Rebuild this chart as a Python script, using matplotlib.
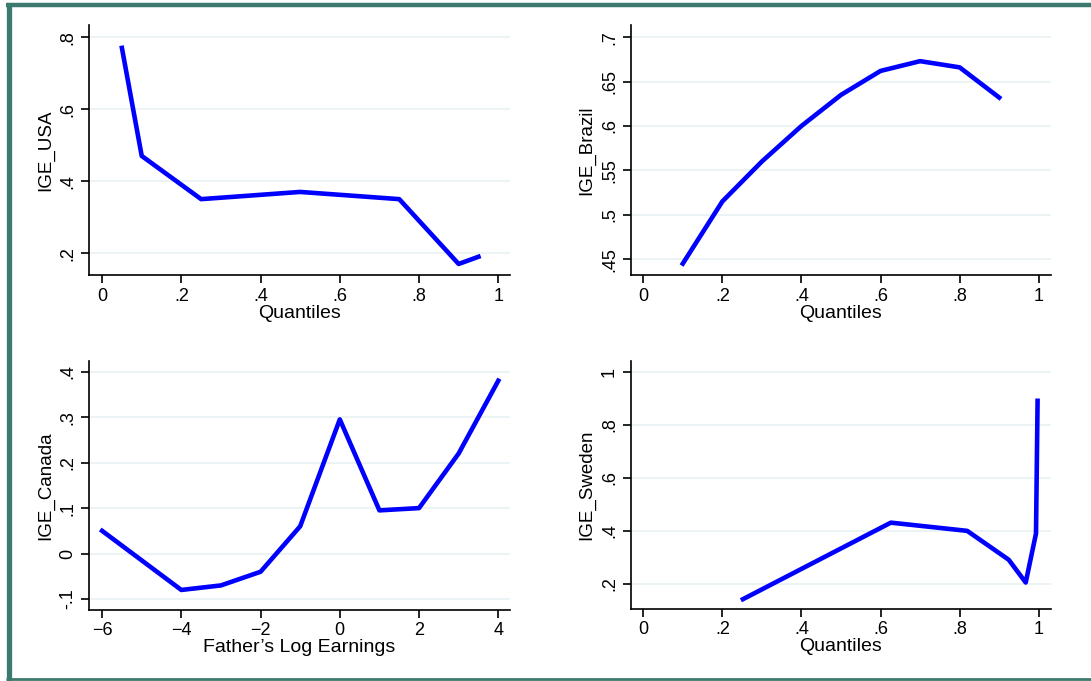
import numpy as np
import matplotlib.pyplot as plt

plt.rc('font', family=['Liberation Sans', 'DejaVu Sans'])
plt.rc('font', size=13)

#### data
usa_q = [0.05, 0.10, 0.25, 0.50, 0.75, 0.90, 0.95]
usa_ige = [0.77, 0.47, 0.35, 0.37, 0.35, 0.17, 0.19]

brazil_q = [0.1, 0.2, 0.3, 0.4, 0.5, 0.6, 0.7, 0.8, 0.9]
brazil_ige = [0.445, 0.515, 0.560, 0.600, 0.635, 0.662, 0.673, 0.666, 0.632]

canada_x = [-6, -5, -4, -3, -2, -1, 0, 1, 2, 3, 4]
canada_ige = [0.05, -0.015, -0.08, -0.07, -0.04, 0.06, 0.295, 0.095, 0.10, 0.22, 0.38]

sweden_q = [0.252, 0.626, 0.819, 0.924, 0.967, 0.993, 0.997]
sweden_ige = [0.142, 0.431, 0.400, 0.291, 0.205, 0.39, 0.891]

quantile_ticks = [0, 0.2, 0.4, 0.6, 0.8, 1]
quantile_labels = ['0', '.2', '.4', '.6', '.8', '1']

LINE_COLOR = '#0000ff'
GRID_COLOR = '#e9f1f3'
FRAME_COLOR = '#3b7a6e'

fig = plt.figure(figsize=(10.91, 6.81), dpi=100)

# outer frame (left, top, bottom only)
fig.add_artist(plt.Line2D([0.0078, 0.0078], [0.0, 0.995], transform=fig.transFigure,
                          color=FRAME_COLOR, lw=3.8, solid_capstyle='butt'))
fig.add_artist(plt.Line2D([0.0055, 1.0], [0.9925, 0.9925], transform=fig.transFigure,
                          color=FRAME_COLOR, lw=3.2, solid_capstyle='butt'))
fig.add_artist(plt.Line2D([0.0055, 1.0], [0.0025, 0.0025], transform=fig.transFigure,
                          color=FRAME_COLOR, lw=2.0, solid_capstyle='butt'))


def style_axes(ax, yticks, ylabels, ylabel, xticks, xlabels, xlabel):
    ax.spines['top'].set_visible(False)
    ax.spines['right'].set_visible(False)
    ax.spines['left'].set_linewidth(1.2)
    ax.spines['bottom'].set_linewidth(1.2)
    ax.set_yticks(yticks)
    ax.set_yticklabels(ylabels, rotation=90, va='center')
    ax.set_xticks(xticks)
    ax.set_xticklabels(xlabels)
    ax.tick_params(direction='out', length=6, width=1.2, labelsize=13, pad=3)
    ax.yaxis.grid(True, color=GRID_COLOR, lw=1.2)
    ax.set_axisbelow(True)
    ax.set_ylabel(ylabel, fontsize=13.5, labelpad=4)
    ax.set_xlabel(xlabel, fontsize=14, labelpad=0)


#### USA
ax = fig.add_axes([0.0816, 0.596, 0.386, 0.367])
ax.plot(usa_q, usa_ige, color=LINE_COLOR, lw=3.3)
ax.set_xlim(-0.033, 1.03)
ax.set_ylim(0.139, 0.833)
style_axes(ax, [0.2, 0.4, 0.6, 0.8], ['.2', '.4', '.6', '.8'], 'IGE_USA',
           quantile_ticks, quantile_labels, 'Quantiles')

#### Brazil
ax = fig.add_axes([0.578, 0.596, 0.385, 0.367])
ax.plot(brazil_q, brazil_ige, color=LINE_COLOR, lw=3.3)
ax.set_xlim(-0.032, 1.03)
ax.set_ylim(0.432, 0.7135)
style_axes(ax, [0.45, 0.5, 0.55, 0.6, 0.65, 0.7], ['.45', '.5', '.55', '.6', '.65', '.7'],
           'IGE_Brazil', quantile_ticks, quantile_labels, 'Quantiles')

#### Canada
ax = fig.add_axes([0.0816, 0.1043, 0.386, 0.366])
ax.plot(canada_x, canada_ige, color=LINE_COLOR, lw=3.3)
ax.set_xlim(-6.33, 4.3)
ax.set_ylim(-0.124, 0.424)
style_axes(ax, [-0.1, 0, 0.1, 0.2, 0.3, 0.4], ['-.1', '0', '.1', '.2', '.3', '.4'],
           'IGE_Canada', [-6, -4, -2, 0, 2, 4], ['\u22126', '\u22124', '\u22122', '0', '2', '4'],
           'Father\u2019s Log Earnings')

#### Sweden
ax = fig.add_axes([0.578, 0.106, 0.385, 0.364])
ax.plot(sweden_q, sweden_ige, color=LINE_COLOR, lw=3.3)
ax.set_xlim(-0.032, 1.03)
ax.set_ylim(0.1057, 1.0415)
style_axes(ax, [0.2, 0.4, 0.6, 0.8, 1.0], ['.2', '.4', '.6', '.8', '1'], 'IGE_Sweden',
           quantile_ticks, quantile_labels, 'Quantiles')

plt.savefig('out.png', dpi=100)
